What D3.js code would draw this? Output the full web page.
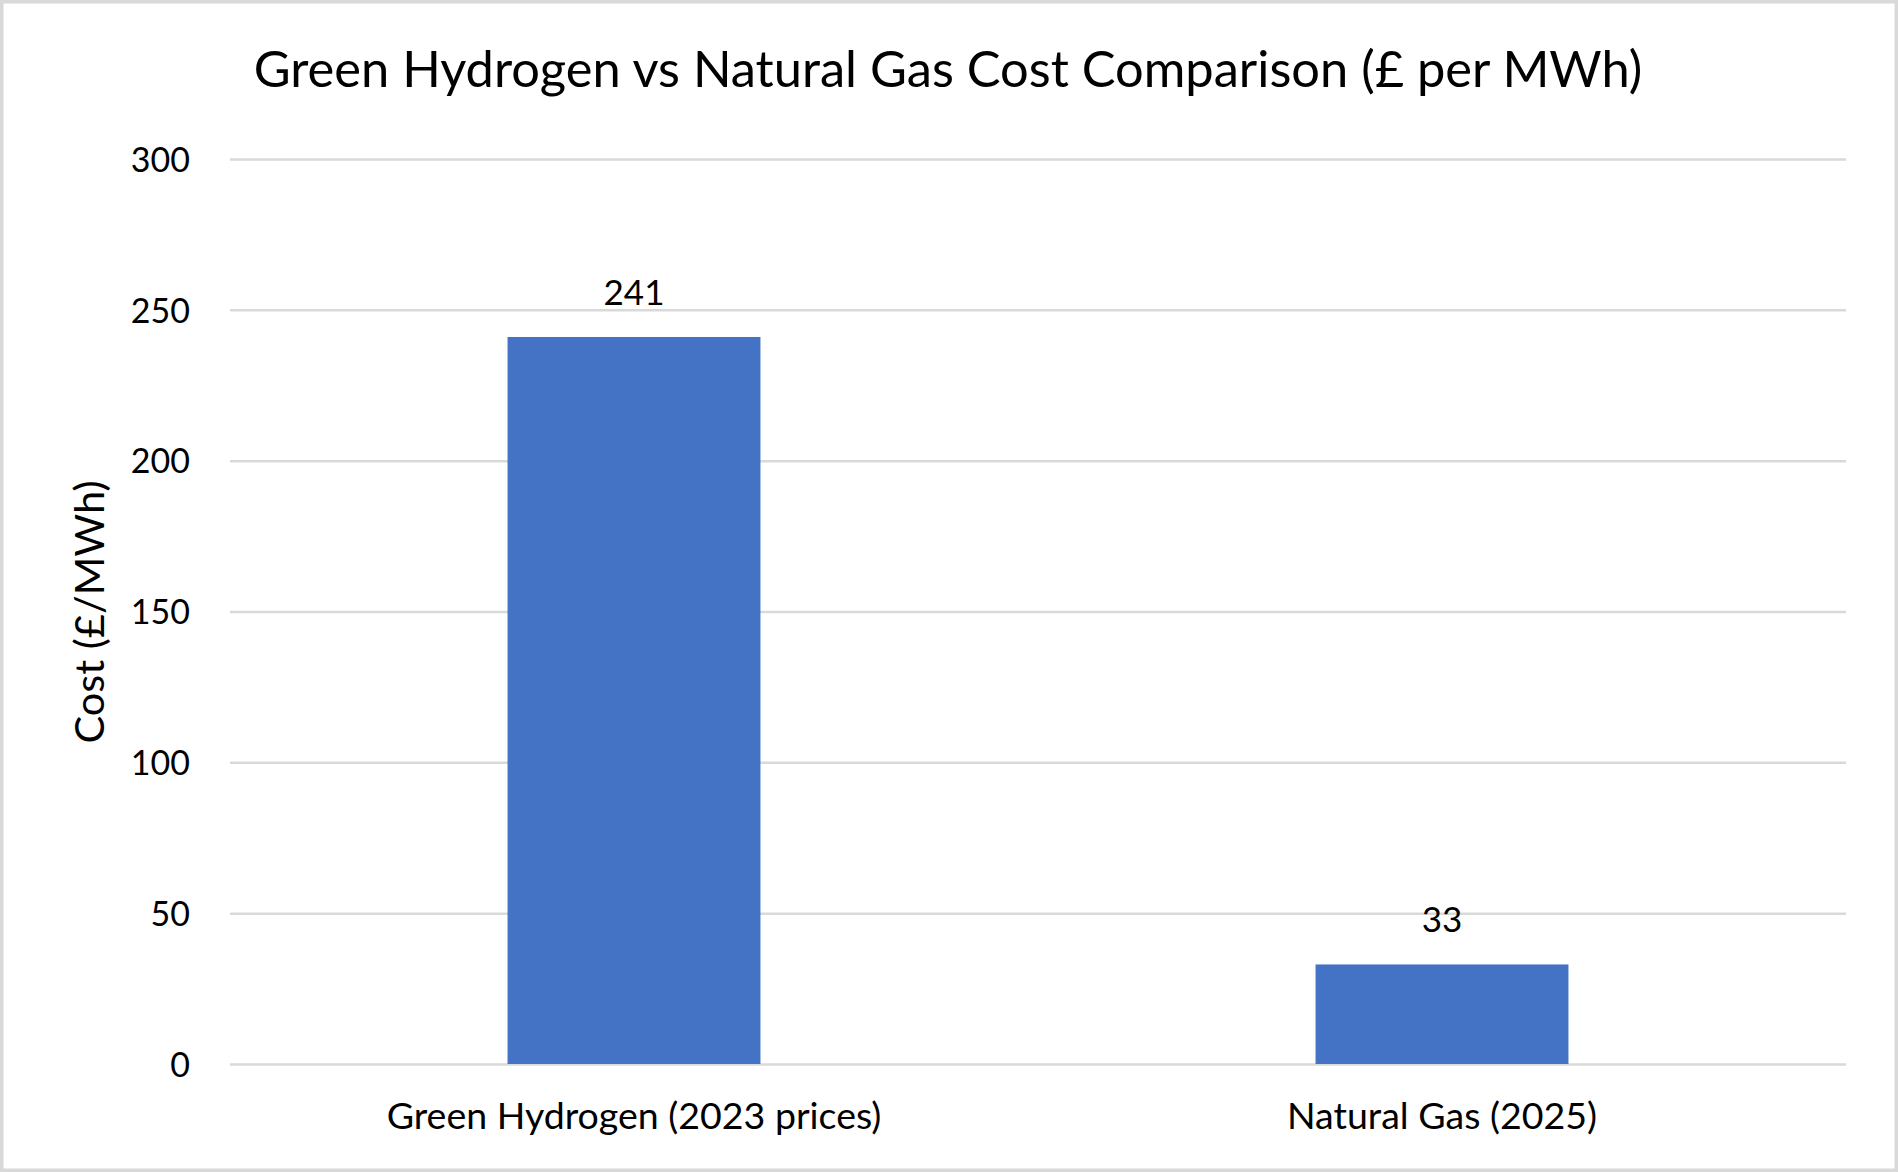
<!DOCTYPE html>
<html>
<head>
<meta charset="utf-8">
<script src="https://cdn.jsdelivr.net/npm/d3@7"></script>
<style>
  html, body { margin: 0; padding: 0; background: #fff; }
  svg text { font-family: Lato, "Open Sans", sans-serif; fill: #000; }
</style>
</head>
<body>
<div id="chart"></div>
<script>
var categories = ['Green Hydrogen (2023 prices)', 'Natural Gas (2025)'];
var costs = [241, 33];
var yTicks = [0, 50, 100, 150, 200, 250, 300];
var chartTitle = 'Green Hydrogen vs Natural Gas Cost Comparison (£ per MWh)';
var yTitle = 'Cost (£/MWh)';

var width = 1898, height = 1172;
var margin = {top: 159, right: 52, bottom: 108, left: 230};

var svg = d3.select('#chart').append('svg')
	.attr('width', width)
	.attr('height', height);

svg.append('rect')
	.attr('x', 1.75).attr('y', 1.75)
	.attr('width', width - 3.5).attr('height', height - 3.5)
	.attr('fill', '#fff')
	.attr('stroke', '#d9d9d9')
	.attr('stroke-width', 3.5);

var x = d3.scaleBand()
	.domain(categories)
	.range([margin.left, width - margin.right])
	.paddingInner(0.687)
	.paddingOuter(0.687 / 2);

var y = d3.scaleLinear()
	.domain([0, 300])
	.range([height - margin.bottom, margin.top]);

// gridlines + tick labels
var yAxis = d3.axisLeft(y)
	.tickValues(yTicks)
	.tickSize(-(width - margin.right - margin.left))
	.tickPadding(40);

var gy = svg.append('g')
	.attr('transform', 'translate(' + margin.left + ',0)')
	.call(yAxis);
gy.select('.domain').remove();
gy.selectAll('line')
	.attr('stroke', '#d9d9d9')
	.attr('stroke-width', 2.5);
gy.selectAll('text')
	.attr('font-size', 34)
	.attr('dy', '0.36em')
	.style('font-family', 'Lato, sans-serif');

// bars
svg.selectAll('rect.bar')
	.data(costs).enter()
	.append('rect')
	.attr('class', 'bar')
	.attr('x', function(d, i){ return x(categories[i]); })
	.attr('y', function(d){ return y(d); })
	.attr('width', x.bandwidth())
	.attr('height', function(d){ return y(0) - y(d); })
	.attr('fill', '#4472c4');

// value labels
svg.selectAll('text.val')
	.data(costs).enter()
	.append('text')
	.attr('class', 'val')
	.attr('text-anchor', 'middle')
	.attr('font-size', 35)
	.attr('x', function(d, i){ return x(categories[i]) + x.bandwidth()/2; })
	.attr('y', function(d){ return y(d) - 32; })
	.text(function(d){ return d; });

// category labels
var gx = svg.append('g')
	.attr('transform', 'translate(0,' + y(0) + ')')
	.call(d3.axisBottom(x).tickSize(0).tickPadding(0));
gx.select('.domain').remove();
gx.selectAll('text')
	.attr('font-size', 37.5)
	.attr('dy', 0)
	.attr('y', 65)
	.style('font-family', 'Lato, sans-serif');

// titles
svg.append('text')
	.attr('x', 948)
	.attr('y', 87)
	.attr('text-anchor', 'middle')
	.attr('font-size', 50.6)
	.text(chartTitle);

svg.append('text')
	.attr('transform', 'translate(104,612) rotate(-90)')
	.attr('text-anchor', 'middle')
	.attr('font-size', 41.5)
	.text(yTitle);
</script>
</body>
</html>
